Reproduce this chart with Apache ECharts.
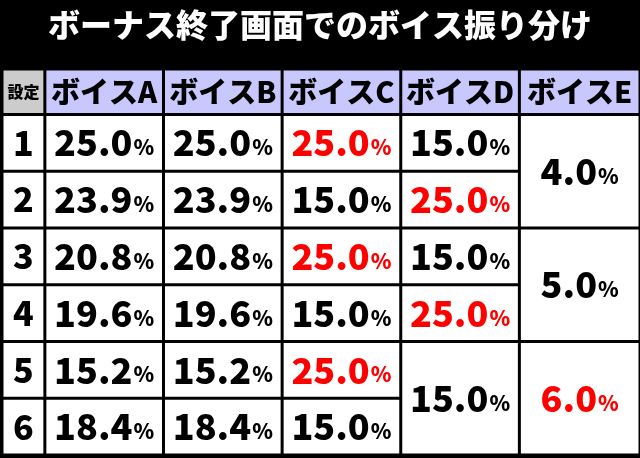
<!DOCTYPE html>
<html><head><meta charset="utf-8">
<script src="https://cdn.jsdelivr.net/npm/echarts@6/dist/echarts.min.js"></script>
<style>html,body{margin:0;padding:0;background:#000}#c{width:640px;height:458px}</style>
</head><body><div id="c"></div>
<script>
const title = 'ボーナス終了画面でのボイス振り分け';
const headers = ['設定','ボイスA','ボイスB','ボイスC','ボイスD','ボイスE'];
const settings = ['1','2','3','4','5','6'];
const voiceA = [25.0,23.9,20.8,19.6,15.2,18.4];
const voiceB = [25.0,23.9,20.8,19.6,15.2,18.4];
const voiceC = [25.0,15.0,25.0,15.0,25.0,15.0];
const voiceD = [15.0,25.0,15.0,25.0,15.0];        // last value spans settings 5-6
const voiceDSpan = [1,1,1,1,2];
const voiceE = [4.0,5.0,6.0];                      // each spans two settings
const voiceESpan = [2,2,2];
const redC = [true,false,true,false,true,false];
const redD = [false,true,false,true,false];
const redE = [false,false,true];

// layout
const colW = [43,119,119,119,119,121];
const rowH = [0.8,1,1,1,1,1,1];
const colEdge=[0]; colW.forEach(w=>colEdge.push(colEdge[colEdge.length-1]+w));
const rowEdge=[0]; rowH.forEach(h=>rowEdge.push(rowEdge[rowEdge.length-1]+h));

const cells=[];
headers.forEach((h,i)=>cells.push([i,0,1,h,i===0?'hset':'head',0]));
settings.forEach((s,r)=>cells.push([0,r+1,1,s,'set',0]));
voiceA.forEach((v,r)=>cells.push([1,r+1,1,v.toFixed(1),'num',0]));
voiceB.forEach((v,r)=>cells.push([2,r+1,1,v.toFixed(1),'num',0]));
voiceC.forEach((v,r)=>cells.push([3,r+1,1,v.toFixed(1),'num',redC[r]?1:0]));
let rr=1; voiceD.forEach((v,i)=>{cells.push([4,rr,voiceDSpan[i],v.toFixed(1),'num',redD[i]?1:0]); rr+=voiceDSpan[i];});
rr=1; voiceE.forEach((v,i)=>{cells.push([5,rr,voiceESpan[i],v.toFixed(1),'num',redE[i]?1:0]); rr+=voiceESpan[i];});

const FONT='"Noto Sans CJK JP", sans-serif';
const chart=echarts.init(document.getElementById('c'));
chart.setOption({
  backgroundColor:'#000',
  title:{text:title,left:'center',top:4,textStyle:{color:'#fff',fontSize:32,fontWeight:900,fontFamily:FONT}},
  grid:{left:2,right:0,top:69,bottom:3},
  xAxis:{type:'value',min:0,max:colEdge[colEdge.length-1],show:false},
  yAxis:{type:'value',min:0,max:rowEdge[rowEdge.length-1],inverse:true,show:false},
  series:[{
    type:'custom',
    data:cells,
    encode:{x:0,y:1},
    renderItem:function(params,api){
      const c=api.value(0), r=api.value(1), span=api.value(2);
      const d=cells[params.dataIndex];
      const p0=api.coord([colEdge[c],rowEdge[r]]);
      const p1=api.coord([colEdge[c+1],rowEdge[r+span]]);
      const g=1.5;
      const x=p0[0]+g,y=p0[1]+g,w=p1[0]-p0[0]-2*g,h=p1[1]-p0[1]-2*g;
      const kind=d[4];
      const fill = kind==='hset'?'#cccccc':kind==='head'?'#c8c8ff':'#ffffff';
      let text, rich={};
      const col = d[5]?'#ff0000':'#000';
      if(kind==='num'){
        text='{n|'+d[3]+'}{p|%}';
        rich={n:{fontSize:36,fontWeight:900,fontFamily:FONT,fill:col},
              p:{fontSize:21,fontWeight:900,fontFamily:FONT,fill:col,padding:[9,0,0,1]}};
      } else {
        text='{t|'+d[3]+'}';
        const fs = kind==='hset'?16:kind==='head'?29:34;
        rich={t:{fontSize:fs,fontWeight:900,fontFamily:FONT,fill:'#000'}};
      }
      return {type:'group',children:[
        {type:'rect',shape:{x:x,y:y,width:w,height:h},style:{fill:fill}},
        {type:'text',style:{text:text,rich:rich,x:x+w/2,y:y+h/2,align:'center',verticalAlign:'middle'}}
      ]};
    }
  }]
});
</script></body></html>
